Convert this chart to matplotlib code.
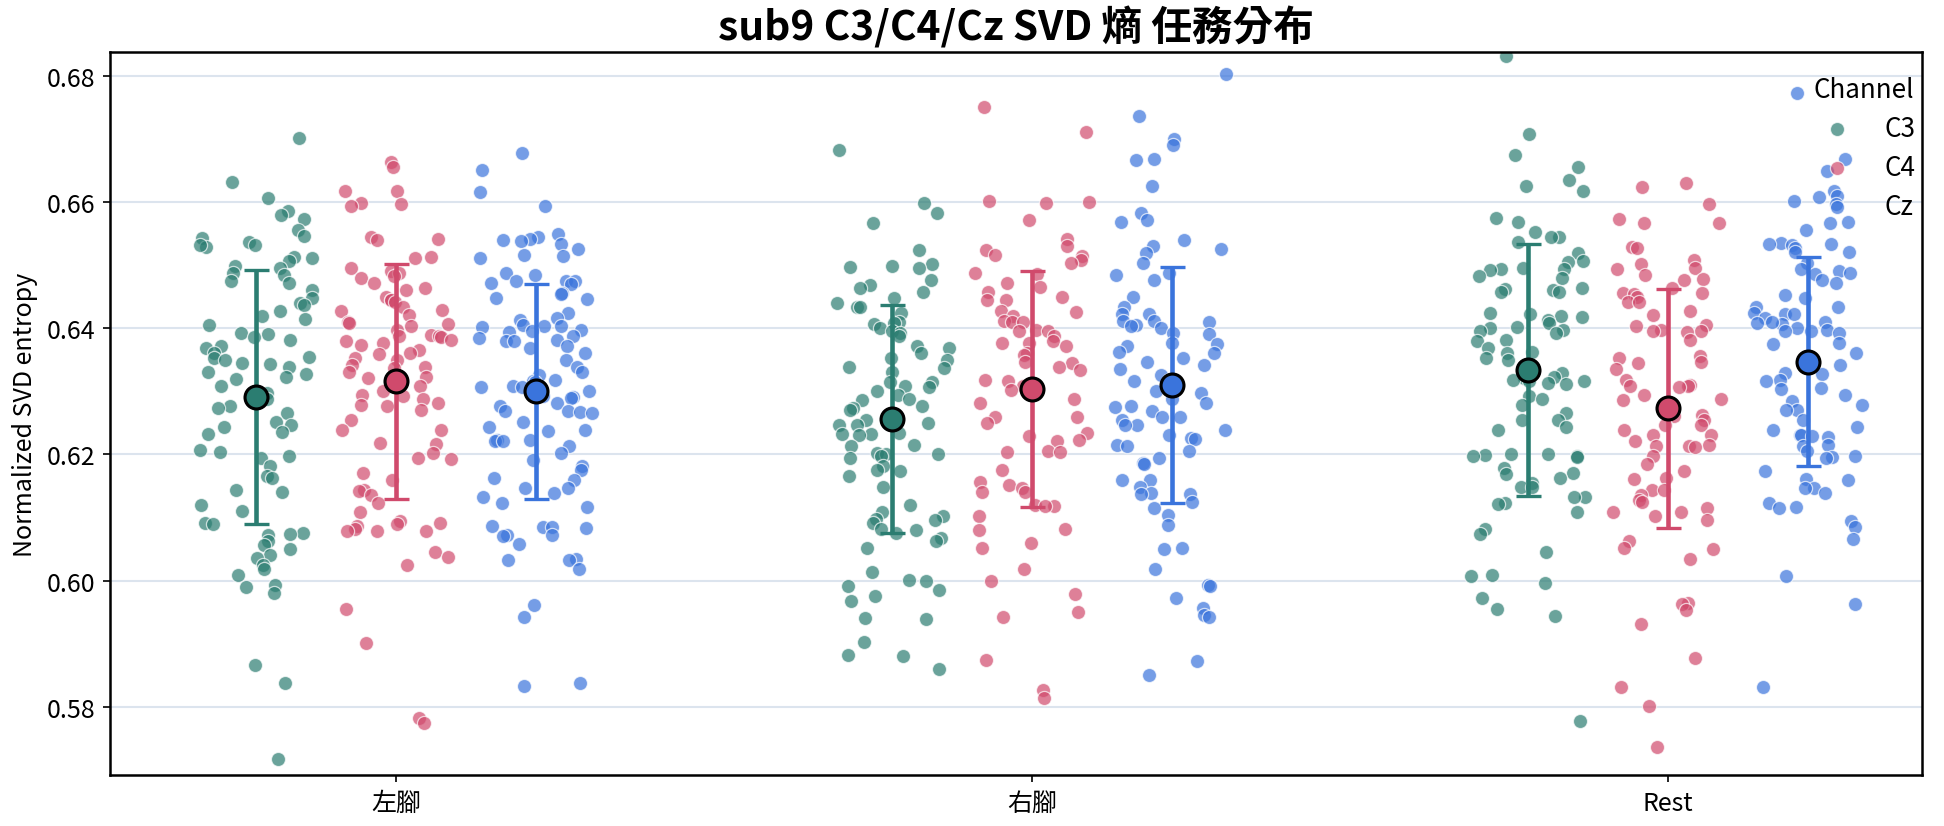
import numpy as np
import matplotlib
matplotlib.use("Agg")
import matplotlib.pyplot as plt

plt.rcParams['font.family'] = ['Noto Sans CJK TC', 'DejaVu Sans']

tasks = ['左腳', '右腳', 'Rest']
channels = ['C3', 'C4', 'Cz']
colors = {'C3': '#2b7d71', 'C4': '#d04a6c', 'Cz': '#3a74dc'}

# 每個 task / channel 的 SVD entropy
left_c3 = [0.6701, 0.6632, 0.6607, 0.6585, 0.6580, 0.6573, 0.6556, 0.6546, 0.6543, 0.6536, 0.6532, 0.6529,
           0.6532, 0.6513, 0.6511, 0.6506, 0.6498, 0.6495, 0.6487, 0.6484, 0.6474, 0.6471, 0.6460, 0.6448,
           0.6440, 0.6437, 0.6427, 0.6419, 0.6415, 0.6405, 0.6392, 0.6390, 0.6386, 0.6382, 0.6371, 0.6368,
           0.6360, 0.6355, 0.6352, 0.6350, 0.6345, 0.6343, 0.6339, 0.6331, 0.6328, 0.6323, 0.6320, 0.6308,
           0.6297, 0.6287, 0.6276, 0.6273, 0.6265, 0.6252, 0.6247, 0.6244, 0.6236, 0.6233, 0.6207, 0.6204,
           0.6197, 0.6194, 0.6181, 0.6165, 0.6162, 0.6144, 0.6141, 0.6120, 0.6110, 0.6091, 0.6089, 0.6075,
           0.6072, 0.6074, 0.6062, 0.6057, 0.6050, 0.6041, 0.6036, 0.6024, 0.6018, 0.6009, 0.5993, 0.5990,
           0.5981, 0.5866, 0.5838, 0.5717]
left_c4 = [0.6663, 0.6655, 0.6618, 0.6617, 0.6598, 0.6596, 0.6593, 0.6544, 0.6542, 0.6540, 0.6512, 0.6511,
           0.6495, 0.6490, 0.6488, 0.6482, 0.6480, 0.6471, 0.6463, 0.6461, 0.6450, 0.6445, 0.6444, 0.6442,
           0.6434, 0.6429, 0.6427, 0.6421, 0.6410, 0.6408, 0.6406, 0.6403, 0.6397, 0.6389, 0.6387, 0.6387,
           0.6386, 0.6382, 0.6380, 0.6376, 0.6374, 0.6366, 0.6360, 0.6359, 0.6352, 0.6350, 0.6342, 0.6339,
           0.6337, 0.6331, 0.6323, 0.6321, 0.6313, 0.6308, 0.6300, 0.6294, 0.6292, 0.6287, 0.6281, 0.6279,
           0.6276, 0.6271, 0.6255, 0.6239, 0.6238, 0.6218, 0.6216, 0.6202, 0.6194, 0.6192, 0.6170, 0.6160,
           0.6144, 0.6142, 0.6136, 0.6123, 0.6109, 0.6094, 0.6092, 0.6090, 0.6086, 0.6081, 0.6079, 0.6078,
           0.6078, 0.6046, 0.6038, 0.6024, 0.5955, 0.5901, 0.5782, 0.5774]
left_cz = [0.6678, 0.6650, 0.6616, 0.6593, 0.6550, 0.6545, 0.6541, 0.6540, 0.6538, 0.6533, 0.6525, 0.6516,
           0.6514, 0.6511, 0.6487, 0.6485, 0.6474, 0.6474, 0.6474, 0.6471, 0.6470, 0.6456, 0.6454, 0.6448,
           0.6446, 0.6424, 0.6416, 0.6413, 0.6405, 0.6404, 0.6403, 0.6402, 0.6397, 0.6395, 0.6394, 0.6387,
           0.6385, 0.6382, 0.6380, 0.6379, 0.6371, 0.6368, 0.6360, 0.6350, 0.6339, 0.6331, 0.6326, 0.6318,
           0.6316, 0.6314, 0.6308, 0.6307, 0.6306, 0.6300, 0.6292, 0.6291, 0.6290, 0.6281, 0.6276, 0.6268,
           0.6268, 0.6267, 0.6266, 0.6252, 0.6244, 0.6239, 0.6237, 0.6223, 0.6223, 0.6222, 0.6221, 0.6213,
           0.6202, 0.6191, 0.6181, 0.6176, 0.6162, 0.6160, 0.6147, 0.6146, 0.6139, 0.6133, 0.6123, 0.6117,
           0.6086, 0.6085, 0.6085, 0.6084, 0.6073, 0.6072, 0.6071, 0.6058, 0.6034, 0.6033, 0.6032, 0.6018,
           0.5962, 0.5943, 0.5838, 0.5833]
right_c3 = [0.6683, 0.6598, 0.6582, 0.6567, 0.6524, 0.6502, 0.6498, 0.6497, 0.6496, 0.6477, 0.6469, 0.6463,
            0.6458, 0.6448, 0.6440, 0.6434, 0.6433, 0.6424, 0.6410, 0.6408, 0.6406, 0.6400, 0.6395, 0.6393,
            0.6387, 0.6371, 0.6369, 0.6360, 0.6352, 0.6350, 0.6339, 0.6337, 0.6331, 0.6315, 0.6314, 0.6308,
            0.6306, 0.6300, 0.6294, 0.6287, 0.6286, 0.6276, 0.6274, 0.6271, 0.6255, 0.6249, 0.6248, 0.6247,
            0.6246, 0.6234, 0.6233, 0.6232, 0.6230, 0.6215, 0.6213, 0.6202, 0.6201, 0.6200, 0.6198, 0.6194,
            0.6181, 0.6176, 0.6174, 0.6166, 0.6149, 0.6120, 0.6109, 0.6102, 0.6097, 0.6096, 0.6091, 0.6081,
            0.6080, 0.6075, 0.6067, 0.6062, 0.6051, 0.6014, 0.6001, 0.6000, 0.5991, 0.5985, 0.5975, 0.5967,
            0.5941, 0.5939, 0.5903, 0.5882, 0.5880, 0.5860]
right_c4 = [0.6751, 0.6711, 0.6601, 0.6600, 0.6599, 0.6572, 0.6541, 0.6530, 0.6524, 0.6516, 0.6514, 0.6508,
            0.6504, 0.6487, 0.6486, 0.6471, 0.6466, 0.6457, 0.6450, 0.6445, 0.6444, 0.6427, 0.6426, 0.6419,
            0.6411, 0.6410, 0.6409, 0.6397, 0.6396, 0.6395, 0.6387, 0.6379, 0.6377, 0.6376, 0.6371, 0.6360,
            0.6358, 0.6347, 0.6345, 0.6339, 0.6334, 0.6318, 0.6317, 0.6308, 0.6302, 0.6287, 0.6281, 0.6260,
            0.6259, 0.6249, 0.6234, 0.6229, 0.6223, 0.6222, 0.6205, 0.6204, 0.6203, 0.6176, 0.6157, 0.6152,
            0.6147, 0.6141, 0.6140, 0.6120, 0.6119, 0.6118, 0.6102, 0.6081, 0.6080, 0.6059, 0.6051, 0.6018,
            0.5999, 0.5978, 0.5951, 0.5943, 0.5874, 0.5827, 0.5814]
right_cz = [0.6802, 0.6736, 0.6699, 0.6690, 0.6668, 0.6667, 0.6626, 0.6583, 0.6572, 0.6569, 0.6540, 0.6530,
            0.6525, 0.6519, 0.6503, 0.6487, 0.6485, 0.6477, 0.6450, 0.6434, 0.6423, 0.6422, 0.6412, 0.6411,
            0.6410, 0.6405, 0.6404, 0.6400, 0.6392, 0.6391, 0.6376, 0.6375, 0.6371, 0.6363, 0.6360, 0.6352,
            0.6347, 0.6342, 0.6336, 0.6326, 0.6318, 0.6317, 0.6310, 0.6300, 0.6298, 0.6287, 0.6281, 0.6276,
            0.6275, 0.6268, 0.6260, 0.6259, 0.6255, 0.6247, 0.6246, 0.6239, 0.6231, 0.6226, 0.6225, 0.6215,
            0.6214, 0.6205, 0.6194, 0.6186, 0.6185, 0.6160, 0.6159, 0.6149, 0.6139, 0.6138, 0.6137, 0.6124,
            0.6115, 0.6104, 0.6088, 0.6051, 0.6050, 0.6018, 0.5993, 0.5992, 0.5972, 0.5956, 0.5945, 0.5942,
            0.5872, 0.5851]
rest_c3 = [0.6831, 0.6707, 0.6675, 0.6655, 0.6635, 0.6625, 0.6617, 0.6574, 0.6568, 0.6553, 0.6545, 0.6544,
           0.6537, 0.6519, 0.6506, 0.6505, 0.6495, 0.6494, 0.6493, 0.6492, 0.6482, 0.6480, 0.6463, 0.6462,
           0.6461, 0.6458, 0.6457, 0.6424, 0.6422, 0.6419, 0.6417, 0.6413, 0.6408, 0.6402, 0.6401, 0.6397,
           0.6395, 0.6393, 0.6382, 0.6380, 0.6368, 0.6363, 0.6361, 0.6352, 0.6350, 0.6329, 0.6323, 0.6321,
           0.6318, 0.6317, 0.6316, 0.6313, 0.6311, 0.6292, 0.6287, 0.6279, 0.6265, 0.6255, 0.6254, 0.6244,
           0.6239, 0.6201, 0.6200, 0.6199, 0.6198, 0.6197, 0.6196, 0.6178, 0.6170, 0.6169, 0.6162, 0.6155,
           0.6149, 0.6148, 0.6133, 0.6132, 0.6123, 0.6122, 0.6108, 0.6082, 0.6074, 0.6045, 0.6009, 0.6008,
           0.5996, 0.5972, 0.5955, 0.5944, 0.5778]
rest_c4 = [0.6630, 0.6623, 0.6597, 0.6573, 0.6567, 0.6566, 0.6528, 0.6527, 0.6508, 0.6501, 0.6496, 0.6493,
           0.6485, 0.6478, 0.6477, 0.6463, 0.6456, 0.6455, 0.6454, 0.6450, 0.6442, 0.6441, 0.6427, 0.6421,
           0.6405, 0.6404, 0.6397, 0.6396, 0.6395, 0.6394, 0.6382, 0.6356, 0.6352, 0.6347, 0.6345, 0.6335,
           0.6318, 0.6310, 0.6309, 0.6308, 0.6307, 0.6294, 0.6287, 0.6286, 0.6263, 0.6262, 0.6261, 0.6255,
           0.6247, 0.6246, 0.6239, 0.6231, 0.6230, 0.6221, 0.6215, 0.6214, 0.6213, 0.6212, 0.6197, 0.6184,
           0.6173, 0.6162, 0.6161, 0.6144, 0.6143, 0.6136, 0.6128, 0.6125, 0.6115, 0.6109, 0.6108, 0.6102,
           0.6096, 0.6062, 0.6051, 0.6050, 0.6034, 0.5964, 0.5963, 0.5954, 0.5932, 0.5877, 0.5832, 0.5802,
           0.5737]
rest_cz = [0.6773, 0.6668, 0.6649, 0.6617, 0.6609, 0.6608, 0.6601, 0.6596, 0.6568, 0.6567, 0.6556, 0.6535,
           0.6534, 0.6533, 0.6532, 0.6527, 0.6521, 0.6520, 0.6503, 0.6494, 0.6490, 0.6487, 0.6486, 0.6477,
           0.6471, 0.6453, 0.6448, 0.6434, 0.6433, 0.6424, 0.6423, 0.6422, 0.6416, 0.6408, 0.6406, 0.6410,
           0.6409, 0.6400, 0.6397, 0.6396, 0.6395, 0.6392, 0.6376, 0.6375, 0.6360, 0.6342, 0.6329, 0.6328,
           0.6318, 0.6316, 0.6305, 0.6304, 0.6294, 0.6284, 0.6279, 0.6271, 0.6270, 0.6255, 0.6244, 0.6239,
           0.6231, 0.6230, 0.6229, 0.6228, 0.6215, 0.6214, 0.6205, 0.6197, 0.6196, 0.6195, 0.6173, 0.6161,
           0.6160, 0.6147, 0.6146, 0.6139, 0.6123, 0.6116, 0.6115, 0.6094, 0.6085, 0.6066, 0.6008, 0.5963,
           0.5831]

# 平均 / 標準差 (圖上的點與誤差棒)
mean_c3 = [0.6291, 0.6256, 0.6334]
mean_c4 = [0.6316, 0.6304, 0.6273]
mean_cz = [0.6300, 0.6310, 0.6347]
sd_c3 = [0.0201, 0.0181, 0.0200]
sd_c4 = [0.0186, 0.0187, 0.0189]
sd_cz = [0.0170, 0.0187, 0.0166]

data = {
    'C3': [left_c3, right_c3, rest_c3],
    'C4': [left_c4, right_c4, rest_c4],
    'Cz': [left_cz, right_cz, rest_cz],
}
means = {'C3': mean_c3, 'C4': mean_c4, 'Cz': mean_cz}
sds = {'C3': sd_c3, 'C4': sd_c4, 'Cz': sd_cz}

fig, ax = plt.subplots(figsize=(12.96, 5.513), dpi=150)
fig.subplots_adjust(left=0.0566, right=0.9887, top=0.9355, bottom=0.0617)

rng = np.random.default_rng(9)
offsets = [-0.22, 0.0, 0.22]
for k, ch in enumerate(channels):
    for i, vals in enumerate(data[ch]):
        x = i + offsets[k] + rng.uniform(-0.09, 0.09, len(vals))
        ax.scatter(x, vals, s=46, color=colors[ch], alpha=0.7, edgecolor='white',
                   linewidth=0.6, zorder=2, label=ch if i == 0 else None)
    xs = np.arange(len(tasks)) + offsets[k]
    ax.errorbar(xs, means[ch], yerr=sds[ch], fmt='none', ecolor=colors[ch],
                elinewidth=2.2, capsize=6, capthick=1.6, zorder=3)
    ax.plot(xs, means[ch], 'o', color=colors[ch], markersize=11,
            markeredgecolor='black', markeredgewidth=1.5, zorder=4)

ax.set_xlim(-0.45, 2.40)
ax.set_ylim(0.5692, 0.6837)
ax.set_xticks(range(len(tasks)))
ax.set_xticklabels(tasks, fontsize=12)
ax.set_yticks([0.58, 0.60, 0.62, 0.64, 0.66, 0.68])
ax.set_yticklabels(['0.58', '0.60', '0.62', '0.64', '0.66', '0.68'], fontsize=12)
ax.yaxis.grid(True, color='#dce4ee', linewidth=1)
ax.set_axisbelow(True)
for sp in ax.spines.values():
    sp.set_linewidth(1.2)
ax.set_ylabel('Normalized SVD entropy', fontsize=12)
ax.set_title('sub9 C3/C4/Cz SVD 熵 任務分布', fontsize=19.5, fontweight='bold')

leg = ax.legend(title='Channel', loc='upper right', bbox_to_anchor=(1.002, 0.981),
                frameon=False, fontsize=12.5, title_fontsize=12.5, handletextpad=0.8,
                labelspacing=0.45, borderaxespad=0)
leg.set_zorder(5)

fig.savefig('out.png', dpi=150)
